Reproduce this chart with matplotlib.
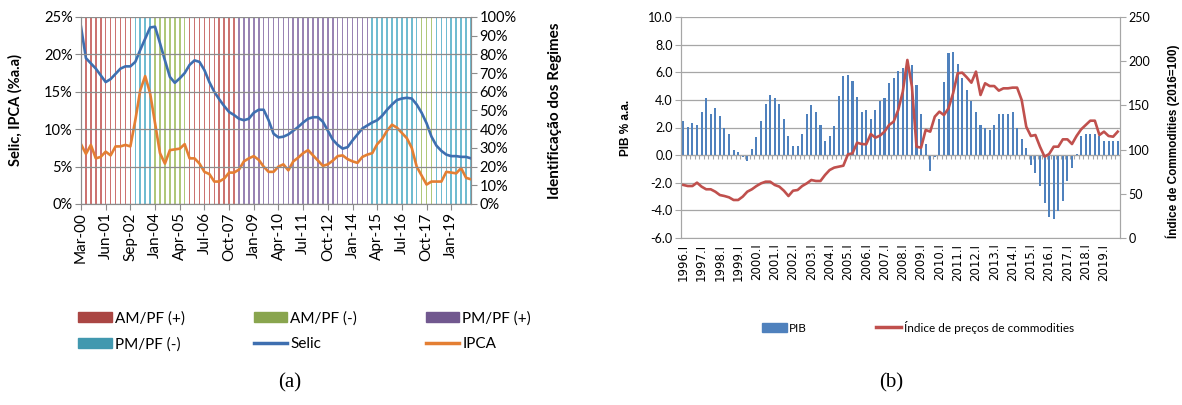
import matplotlib
matplotlib.use('Agg')
import matplotlib.pyplot as plt
from matplotlib.patches import Patch
from matplotlib.lines import Line2D

plt.rcParams['font.family'] = ['Lato', 'DejaVu Sans']

# (a) Selic e IPCA trimestrais, 2000-2019, com regimes identificados
datas_a = ['Mar-00', 'Jun-01', 'Sep-02', 'Jan-04', 'Apr-05', 'Jul-06', 'Oct-07', 'Jan-09',
           'Apr-10', 'Jul-11', 'Oct-12', 'Jan-14', 'Apr-15', 'Jul-16', 'Oct-17', 'Jan-19']
selic = [23.7, 19.5, 18.8, 18.1, 17.2, 16.3, 16.7, 17.4, 18.1, 18.4,
         18.4, 19.0, 20.6, 22.1, 23.6, 23.7, 21.5, 19.2, 17.0, 16.2,
         16.8, 17.5, 18.6, 19.2, 19.0, 17.9, 16.3, 15.0, 14.0, 13.1,
         12.3, 11.9, 11.4, 11.2, 11.4, 12.2, 12.6, 12.6, 11.2, 9.4,
         8.9, 9.0, 9.3, 9.8, 10.3, 10.9, 11.4, 11.6, 11.6, 11.0,
         9.8, 8.6, 7.9, 7.4, 7.6, 8.5, 9.3, 10.1, 10.5, 10.9,
         11.2, 11.8, 12.6, 13.3, 13.9, 14.1, 14.2, 14.1, 13.3, 12.2,
         10.8, 9.0, 7.8, 7.1, 6.6, 6.4, 6.4, 6.3, 6.3, 6.1]
ipca = [8.0, 6.7, 7.9, 6.1, 6.3, 7.0, 6.5, 7.7, 7.7, 7.9,
        7.7, 11.2, 15.2, 17.1, 14.8, 10.8, 6.8, 5.4, 7.2, 7.3,
        7.4, 8.0, 6.1, 6.1, 5.4, 4.3, 4.0, 3.0, 3.0, 3.4,
        4.2, 4.2, 4.6, 5.7, 6.1, 6.4, 5.9, 5.0, 4.3, 4.3,
        5.0, 5.3, 4.5, 5.7, 6.2, 6.8, 7.2, 6.5, 5.8, 5.1,
        5.3, 5.8, 6.4, 6.5, 6.0, 5.7, 5.5, 6.3, 6.6, 6.8,
        8.0, 8.7, 9.8, 10.6, 10.2, 9.5, 8.8, 7.5, 5.0, 3.8,
        2.6, 3.0, 3.0, 3.0, 4.3, 4.2, 4.1, 4.8, 3.5, 3.3]
# sequencia de regimes: (regime, numero de trimestres)
regimes = [('AM/PF (+)', 11), ('PM/PF (-)', 4), ('AM/PF (-)', 7), ('AM/PF (+)', 10),
           ('PM/PF (+)', 27), ('PM/PF (-)', 10), ('AM/PF (-)', 3), ('PM/PF (-)', 8)]
nomes_regime = ['AM/PF (+)', 'AM/PF (-)', 'PM/PF (+)', 'PM/PF (-)']
nivel_regime = 1.0  # 100% no eixo secundario

# (b) PIB (% a.a.) e indice de precos de commodities, 1996.I-2019.IV
anos_b = ['1996.I', '1997.I', '1998.I', '1999.I', '2000.I', '2001.I', '2002.I', '2003.I',
          '2004.I', '2005.I', '2006.I', '2007.I', '2008.I', '2009.I', '2010.I', '2011.I',
          '2012.I', '2013.I', '2014.I', '2015.I', '2016.I', '2017.I', '2018.I', '2019.I']
pib = [2.5, 2.05, 2.3, 2.2, 3.15, 4.1, 3.0, 3.4, 2.8, 2.0,
       1.55, 0.35, 0.2, -0.1, -0.45, 0.45, 1.3, 2.45, 3.7, 4.35,
       4.15, 3.7, 2.65, 1.4, 0.65, 0.65, 1.55, 3.0, 3.6, 3.15,
       2.2, 1.05, 1.4, 2.1, 4.3, 5.7, 5.8, 5.35, 4.2, 3.15,
       3.25, 2.65, 3.3, 3.95, 4.15, 5.25, 5.55, 6.1, 6.3, 6.35,
       6.5, 5.1, 2.95, 0.8, -1.15, -0.1, 2.6, 5.3, 7.4, 7.5,
       6.6, 5.6, 4.75, 3.95, 3.1, 2.2, 2.0, 1.85, 2.2, 2.95,
       3.0, 3.0, 3.15, 2.0, 1.15, 0.5, -0.7, -1.3, -2.25, -3.5,
       -4.5, -4.6, -4.05, -3.3, -1.9, -0.9, 0.1, 1.4, 1.55, 1.55,
       1.55, 1.4, 1.05, 1.05, 1.0, 1.05]
commodities = [60.0, 58.8, 58.8, 62.6, 58.1, 55.1, 55.1, 52.4, 48.6, 47.5,
               46.0, 43.0, 43.0, 46.8, 52.4, 55.1, 58.8, 61.8, 63.7, 63.7,
               60.0, 58.1, 53.5, 47.5, 53.5, 54.3, 58.8, 61.8, 65.6, 64.5,
               64.5, 71.3, 76.9, 79.6, 80.7, 81.8, 94.6, 95.8, 107.8, 106.3,
               106.0, 117.6, 113.5, 115.8, 120.3, 127.8, 131.6, 144.8, 165.5, 201.4,
               171.2, 103.3, 102.2, 122.2, 120.3, 137.3, 142.9, 139.1, 146.7, 163.7,
               186.3, 187.0, 181.7, 175.7, 188.2, 161.8, 175.0, 171.9, 171.9, 166.7,
               169.3, 169.3, 170.1, 170.1, 156.1, 125.9, 115.4, 116.5, 103.3, 92.0,
               95.0, 103.3, 103.3, 111.6, 111.6, 106.3, 115.4, 122.9, 127.8, 132.7,
               132.7, 116.5, 120.3, 115.4, 114.6, 120.3]

cor_barra = {'AM/PF (+)': '#C0504D', 'AM/PF (-)': '#9BBB59',
             'PM/PF (+)': '#8064A2', 'PM/PF (-)': '#4BACC6'}
cor_legenda = {'AM/PF (+)': '#AA4643', 'AM/PF (-)': '#89A54E',
               'PM/PF (+)': '#71588F', 'PM/PF (-)': '#4198AF'}
cinza = '#8C8C8C'
W, H = 1182, 405

fig = plt.figure(figsize=(W / 100, H / 100), dpi=100)

# ---------------- painel (a) ----------------
axA = fig.add_axes([81 / W, 1 - 204 / H, 390 / W, 187 / H])
axA2 = axA.twinx()
axA.set_zorder(axA2.get_zorder() + 1)
axA.patch.set_visible(False)

inicio = 0
for nome, n in regimes:
    xs = list(range(inicio, inicio + n))
    axA2.bar(xs, [nivel_regime] * n, width=0.32, color=cor_barra[nome], alpha=0.8, linewidth=0)
    inicio += n
axA2.set_ylim(0, 1)
axA2.set_yticks([i / 10 for i in range(11)])
axA2.set_yticklabels([f'{i * 10}%' for i in range(11)])
axA2.set_ylabel('Identificação dos Regimes', fontsize=11, fontweight='bold')
axA2.yaxis.set_label_coords(1.197, 0.5)

x_a = list(range(len(selic)))
axA.plot(x_a, selic, color='#3E6FB0', lw=1.9)
axA.plot(x_a, ipca, color='#E47F33', lw=1.9)
axA.set_ylim(0, 25)
axA.set_yticks(range(0, 26, 5))
axA.set_yticklabels([f'{v}%' for v in range(0, 26, 5)])
axA.set_xlim(0, len(selic) - 1)
axA.set_xticks(range(0, len(selic), 5))
axA.set_xticklabels(datas_a, rotation=90)
axA.set_ylabel('Selic, IPCA (%a.a)', fontsize=10.5, fontweight='bold')
axA.yaxis.set_label_coords(-0.151, 0.5)
axA.yaxis.grid(True, color=cinza, lw=0.9)
axA.set_axisbelow(False)

for a in (axA, axA2):
    a.spines['top'].set_visible(False)
    for s in ('left', 'right', 'bottom'):
        a.spines[s].set_color(cinza)
    a.tick_params(direction='out', length=4, color=cinza, labelsize=10.5, pad=2)
axA.tick_params(axis='x', labelsize=11)

ordem = [0, 3, 1, 4, 2, 5]
hand = [Patch(color=cor_legenda[n]) for n in nomes_regime] + \
       [Line2D([], [], color='#3E6FB0', lw=2.5), Line2D([], [], color='#E47F33', lw=2.5)]
labs = nomes_regime + ['Selic', 'IPCA']
fig.legend([hand[i] for i in ordem], [labs[i] for i in ordem], ncol=3, loc='upper left',
           bbox_to_anchor=(72 / W, 1 - 305 / H), frameon=False, fontsize=11,
           handlelength=2.2, handleheight=0.7, handletextpad=0.2,
           columnspacing=4.5, labelspacing=0.75, borderaxespad=0)

# ---------------- painel (b) ----------------
axB = fig.add_axes([681 / W, 1 - 238 / H, 439 / W, 221 / H])
x_b = list(range(len(pib)))
axB.bar(x_b, pib, width=0.45, color='#4F81BD', linewidth=0)
axB.set_ylim(-6, 10)
axB.set_yticks(range(-6, 11, 2))
axB.set_yticklabels([f'{v:.1f}' for v in range(-6, 11, 2)])
axB.set_xlim(-0.5, len(pib) - 0.5)
axB.spines['bottom'].set_position(('data', 0))
axB.set_xticks([i - 0.5 for i in range(len(pib) + 1)])
axB.set_xticklabels([])
axB.tick_params(axis='x', direction='out', length=3, color='#A6A6A6', width=0.8)
axB.yaxis.grid(True, color='#A6A6A6', lw=0.9)
axB.set_axisbelow(True)
axB.set_ylabel('PIB % a.a.', fontsize=8.5, fontweight='bold', family='Liberation Sans')
axB.yaxis.set_label_coords(-0.112, 0.5)

sec = axB.secondary_xaxis('bottom')
sec.set_xticks(list(range(0, len(pib), 4)))
sec.set_xticklabels(anos_b, rotation=90, family='DejaVu Sans', fontsize=8.5)
sec.tick_params(length=0, pad=4)
sec.spines['bottom'].set_color('#A6A6A6')

axB2 = axB.twinx()
axB2.plot(x_b, commodities, color='#C0504D', lw=1.9)
axB2.set_ylim(0, 250)
axB2.set_yticks(range(0, 251, 50))
axB2.set_ylabel('Índice de Commodities (2016=100)', fontsize=8.5, fontweight='bold',
                family='Liberation Sans')
axB2.yaxis.set_label_coords(1.103, 0.44)

for a in (axB, axB2):
    a.spines['top'].set_visible(False)
    for s in ('left', 'right', 'bottom'):
        a.spines[s].set_color('#A6A6A6')
    a.tick_params(axis='y', direction='out', length=4, color='#A6A6A6', labelsize=9, pad=2)
axB2.spines['bottom'].set_visible(False)

fig.legend([Patch(color='#4F81BD'), Line2D([], [], color='#C0504D', lw=2.5)],
           ['PIB', 'Índice de preços de commodities'], ncol=2, loc='center left',
           bbox_to_anchor=(757 / W, 1 - 327 / H), frameon=False, fontsize=8.5,
           handlelength=2.1, handleheight=0.7, handletextpad=0.2, columnspacing=5.9,
           borderaxespad=0)

fig.text(290 / W, 1 - 383 / H, '(a)', ha='center', va='center', fontsize=15,
         family='Liberation Serif')
fig.text(891 / W, 1 - 383 / H, '(b)', ha='center', va='center', fontsize=15,
         family='Liberation Serif')

fig.savefig('out.png', dpi=100)
